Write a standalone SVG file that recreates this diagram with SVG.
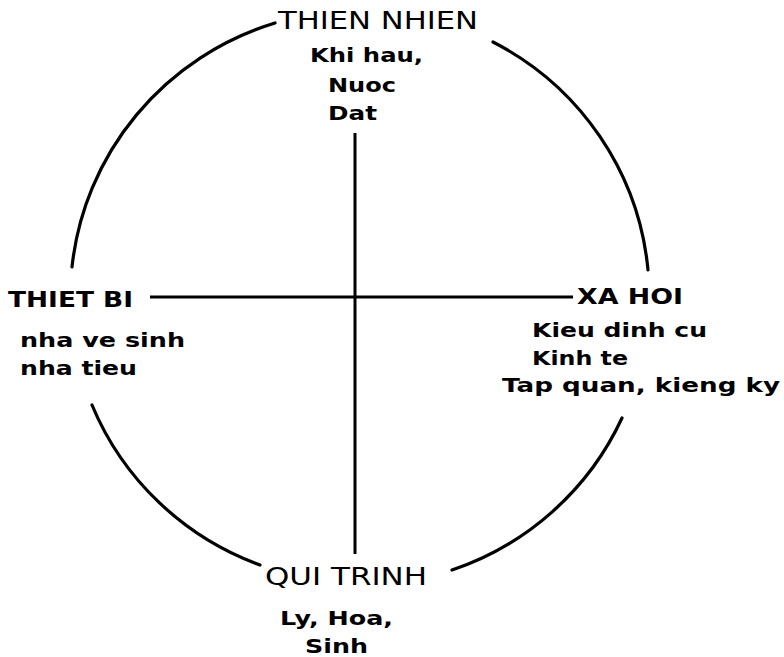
<svg xmlns="http://www.w3.org/2000/svg" width="784" height="657" viewBox="0 0 784 657">
  <style>
    .bg { fill: #ffffff; }
    .ring { fill: none; stroke: #000; stroke-width: 3.2; stroke-linecap: round; }
    .axis { fill: none; stroke: #000; stroke-width: 3; }
    .title { font-family: "DejaVu Sans", Verdana, sans-serif; font-size: 24px; fill: #000; }
    .sub { font-family: "DejaVu Sans", Verdana, sans-serif; font-size: 20px; font-weight: bold; fill: #000; }
    .bt { font-family: "DejaVu Sans", Verdana, sans-serif; font-size: 21px; font-weight: bold; fill: #000; }
  </style>
  <rect class="bg" x="0" y="0" width="784" height="657"/>
  <g id="ring">
    <path class="ring" d="M72,267 A290,287 0 0 1 275,23"/>
    <path class="ring" d="M493,42 A290,287 0 0 1 648,270"/>
    <path class="ring" d="M622,418 A290,287 0 0 1 452,570"/>
    <path class="ring" d="M260,565 A290,287 0 0 1 92,405"/>
  </g>
  <g id="connectors">
    <line class="axis" x1="355" y1="133" x2="355" y2="554"/>
    <line class="axis" x1="150" y1="297" x2="573" y2="297"/>
  </g>
  <g id="thien-nhien">
    <text class="title" x="278" y="29" textLength="200" lengthAdjust="spacingAndGlyphs">THIEN NHIEN</text>
    <text class="sub" x="310" y="62" textLength="113" lengthAdjust="spacingAndGlyphs">Khi hau,</text>
    <text class="sub" x="328" y="92" textLength="68" lengthAdjust="spacingAndGlyphs">Nuoc</text>
    <text class="sub" x="328" y="120" textLength="49" lengthAdjust="spacingAndGlyphs">Dat</text>
  </g>
  <g id="thiet-bi">
    <text class="bt" x="8" y="307" textLength="125" lengthAdjust="spacingAndGlyphs">THIET BI</text>
    <text class="sub" x="20" y="347" textLength="165" lengthAdjust="spacingAndGlyphs">nha ve sinh</text>
    <text class="sub" x="20" y="375" textLength="117" lengthAdjust="spacingAndGlyphs">nha tieu</text>
  </g>
  <g id="xa-hoi">
    <text class="bt" x="577" y="304" textLength="106" lengthAdjust="spacingAndGlyphs">XA HOI</text>
    <text class="sub" x="532" y="337" textLength="175" lengthAdjust="spacingAndGlyphs">Kieu dinh cu</text>
    <text class="sub" x="532" y="365" textLength="96" lengthAdjust="spacingAndGlyphs">Kinh te</text>
    <text class="sub" x="502" y="392" textLength="278" lengthAdjust="spacingAndGlyphs">Tap quan, kieng ky</text>
  </g>
  <g id="qui-trinh">
    <text class="title" x="265" y="585" textLength="162" lengthAdjust="spacingAndGlyphs">QUI TRINH</text>
    <text class="sub" x="280" y="625" textLength="113" lengthAdjust="spacingAndGlyphs">Ly, Hoa,</text>
    <text class="sub" x="305" y="653" textLength="63" lengthAdjust="spacingAndGlyphs">Sinh</text>
  </g>
</svg>
